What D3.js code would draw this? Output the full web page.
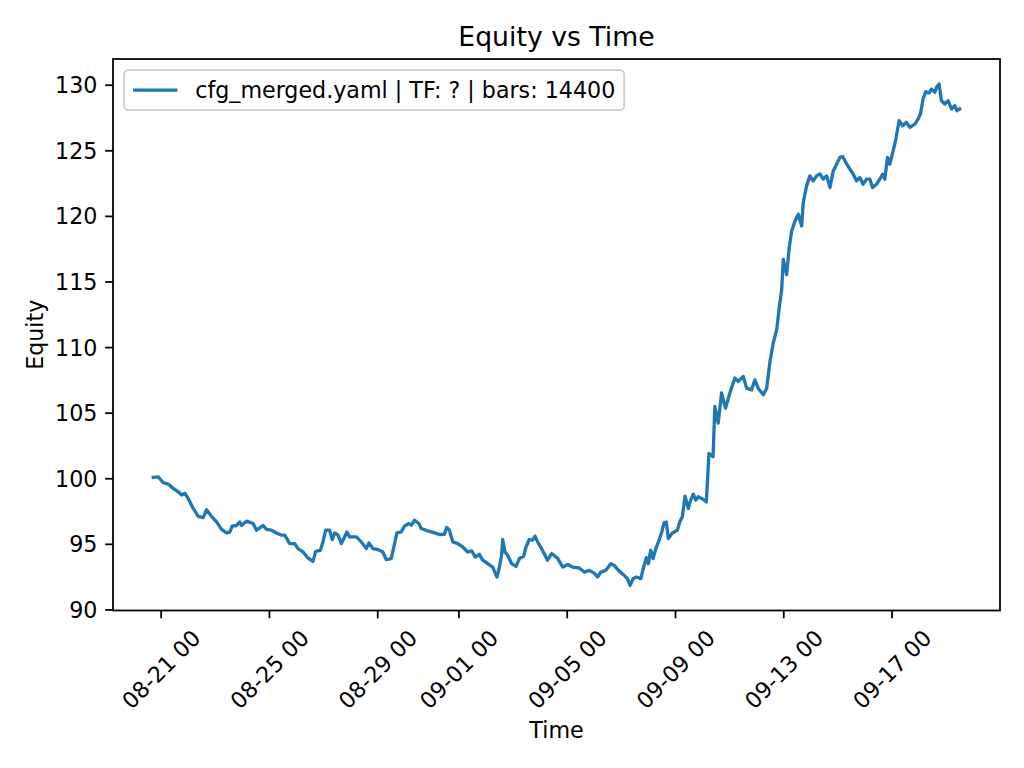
<!DOCTYPE html>
<html>
<head>
<meta charset="utf-8">
<script src="https://cdn.jsdelivr.net/npm/d3@7"></script>
<style>
  html, body { margin: 0; padding: 0; background: #ffffff; }
  svg { display: block; font-family: "DejaVu Sans", sans-serif; }
</style>
</head>
<body>
<svg id="chart" width="1024" height="768"></svg>
<script>
// ---------------- data ----------------
const startDate = "2025-08-21T00:00:00";   // hours below are counted from this moment
const hoursFromStart = [
  -6.5,-2.1,2.3,6.7,11.2,15.6,18.6,21.5,24.4,28.9,33.3,37.7,40.7,45.1,49.6,54.0,58.4,61.3,63.4,67.3,
  70.2,71.7,76.1,82.0,85.0,90.8,93.8,98.2,102.7,107.1,
  110.0,114.4,118.9,121.8,126.2,130.6,135.1,137.4,141.6,143.9,146.3,149.8,152.2,154.3,157.2,160.2,163.1,165.1,167.5,173.5,
  177.9,182.3,184.6,188.2,192.6,197.0,200.0,204.4,207.4,209.4,213.3,216.2,220.0,222.1,225.1,228.9,
  231.0,236.8,242.8,247.2,251.6,253.6,256.0,259.0,263.4,267.8,272.2,275.8,278.8,282.6,285.5,289.9,294.4,298.2,300.3,302.3,
  303.2,305.3,307.6,311.2,315.1,318.0,321.8,323.9,326.8,329.8,331.9,334.2,338.6,343.0,346.6,
  352.1,356.5,360.9,365.2,371.1,375.6,380.0,384.4,387.3,390.3,394.7,399.1,402.1,406.5,410.9,413.8,416.2,418.9,421.8,425.7,
  428.6,430.6,432.4,434.5,436.6,439.0,441.9,444.3,446.3,448.3,450.1,453.6,458.1,460.2,462.5,464.9,467.8,469.9,472.2,474.4,
  476.7,480.8,483.8,486.1,
  489.8,491.3,494.3,497.3,500.8,505.5,509.1,512.0,516.5,519.5,523.9,526.8,529.8,534.3,537.3,540.2,543.1,546.2,548.2,550.6,
  552.0,555.0,557.1,559.4,562.4,565.3,568.3,569.7,572.7,575.6,578.5,581.6,584.5,587.4,590.4,593.4,596.3,599.3,602.2,604.6,
  607.5,611.1,614.0,617.0,619.9,622.8,625.8,628.8,631.1,634.7,637.6,640.0,642.0,644.4,646.4,649.4,651.8,654.7,657.7,661.2,
  664.2,668.6,671.5,673.6,675.9,678.3,681.2,683.4,686.3,687.8,690.1,692.2,695.2,698.1,701.1,704.0,706.0,708.4
];
const equity = [
  100.07,100.1,99.66,99.56,99.23,98.97,98.72,98.85,98.46,97.7,97.1,97.0,97.6,97.1,96.67,96.1,95.83,95.9,96.35,96.4,
  96.67,96.4,96.73,96.55,96.04,96.4,96.1,96.04,95.83,95.66,
  95.66,95.02,95.02,94.64,94.38,93.92,93.67,94.43,94.51,95.15,96.04,96.04,95.33,95.83,95.66,95.02,95.53,95.91,95.53,95.53,
  95.15,94.64,95.07,94.64,94.56,94.38,93.8,93.88,95.02,95.83,95.91,96.35,96.55,96.42,96.8,96.55,
  96.17,95.99,95.83,95.71,95.73,96.25,96.04,95.15,95.02,94.76,94.38,94.46,94.0,94.2,93.75,93.49,93.23,92.47,93.23,94.13,
  95.33,94.38,94.13,93.49,93.28,93.88,94.05,94.76,95.33,95.28,95.58,95.15,94.5,93.75,94.26,
  93.88,93.23,93.42,93.23,93.16,92.85,92.98,92.77,92.47,92.85,92.98,93.49,93.36,92.92,92.6,92.35,91.83,92.35,92.47,92.35,
  93.36,93.95,93.49,94.51,93.88,94.64,95.28,95.91,96.6,96.67,95.4,95.83,96.04,96.67,97.06,98.64,97.7,98.33,98.79,98.33,
  98.59,98.4,98.2,101.9,
  101.64,105.47,104.2,106.5,105.35,106.74,107.64,107.38,107.76,106.87,106.74,107.5,106.87,106.36,106.87,108.9,110.31,111.33,112.86,114.39,
  116.68,115.53,117.45,118.85,119.61,120.12,119.23,121.02,122.29,123.05,122.67,123.05,123.2,122.8,123.05,122.16,123.43,123.94,124.46,124.53,
  124.07,123.56,123.18,122.67,122.93,122.42,122.8,122.8,122.16,122.42,122.8,123.18,122.8,124.46,123.94,124.96,125.86,127.26,126.87,127.13,
  126.75,127.0,127.38,127.77,128.91,129.47,129.37,129.67,129.42,129.8,130.05,128.78,128.53,128.78,128.15,128.4,128.02,128.15
];
const xTickDates = ["2025-08-21","2025-08-25","2025-08-29","2025-09-01","2025-09-05","2025-09-09","2025-09-13","2025-09-17"];
const yTickValues = [90, 95, 100, 105, 110, 115, 120, 125, 130];
const titleText = "Equity vs Time";
const xLabelText = "Time";
const yLabelText = "Equity";
const seriesLabel = "cfg_merged.yaml | TF: ? | bars: 14400";

// ---------------- layout ----------------
const W = 1024, H = 768;
const plot = { left: 113, right: 1000, top: 59, bottom: 610.5 };
const lineColor = "#1f77b4";
const lineW = 3.33;
const fs = 22.2, titleFs = 26.7;
const tickLen = 7.8, tickPad = 7.8, spineW = 1.78;

const t0 = new Date(startDate).getTime();
const data = hoursFromStart.map((h, i) => ({ t: new Date(t0 + h * 3600000), v: equity[i] }));

// matplotlib-style 5% margins
const tExt = d3.extent(data, d => d.t.getTime());
const tPad = (tExt[1] - tExt[0]) * 0.05;
const vExt = d3.extent(data, d => d.v);
const vPad = (vExt[1] - vExt[0]) * 0.05;

const x = d3.scaleTime()
  .domain([new Date(tExt[0] - tPad), new Date(tExt[1] + tPad)])
  .range([plot.left, plot.right]);
const y = d3.scaleLinear()
  .domain([vExt[0] - vPad, vExt[1] + vPad])
  .range([plot.bottom, plot.top]);

const svg = d3.select("#chart");
svg.append("rect").attr("width", W).attr("height", H).attr("fill", "#ffffff");

// line
const clipId = "plotclip";
svg.append("clipPath").attr("id", clipId).append("rect")
  .attr("x", plot.left).attr("y", plot.top)
  .attr("width", plot.right - plot.left).attr("height", plot.bottom - plot.top);

svg.append("path")
  .datum(data)
  .attr("clip-path", `url(#${clipId})`)
  .attr("fill", "none")
  .attr("stroke", lineColor)
  .attr("stroke-width", lineW)
  .attr("stroke-linejoin", "round")
  .attr("stroke-linecap", "square")
  .attr("d", d3.line().x(d => x(d.t)).y(d => y(d.v)));

// axes
const fmt = d3.timeFormat("%m-%d %H");
const xTicks = xTickDates.map(s => new Date(s + "T00:00:00"));

const xAxis = svg.append("g")
  .attr("transform", `translate(0,${plot.bottom})`)
  .call(d3.axisBottom(x).tickValues(xTicks).tickFormat(fmt).tickSize(tickLen).tickPadding(tickPad));
xAxis.select(".domain").remove();
xAxis.selectAll(".tick line").attr("stroke", "#000").attr("stroke-width", spineW);
xAxis.selectAll(".tick text")
  .attr("fill", "#000")
  .style("font-size", fs + "px")
  .style("font-family", "DejaVu Sans")
  .attr("text-anchor", "middle")
  .attr("dominant-baseline", "central")
  .attr("dy", null)
  .attr("y", null)
  .each(function () {
    const el = d3.select(this);
    const w = this.getComputedTextLength();
    const hgt = fs * 1.0;
    const bb = (w + hgt) * Math.SQRT1_2;
    const cy = tickLen + tickPad + bb / 2;
    el.attr("transform", `translate(0,${cy}) rotate(-45)`);
  });

const yAxis = svg.append("g")
  .attr("transform", `translate(${plot.left},0)`)
  .call(d3.axisLeft(y).tickValues(yTickValues).tickFormat(d3.format("d")).tickSize(tickLen).tickPadding(tickPad));
yAxis.select(".domain").remove();
yAxis.selectAll(".tick line").attr("stroke", "#000").attr("stroke-width", spineW);
yAxis.selectAll(".tick text")
  .attr("fill", "#000")
  .style("font-size", fs + "px")
  .style("font-family", "DejaVu Sans")
  .attr("dy", null)
  .attr("dominant-baseline", "central");

// spines
svg.append("rect")
  .attr("x", plot.left).attr("y", plot.top)
  .attr("width", plot.right - plot.left).attr("height", plot.bottom - plot.top)
  .attr("fill", "none").attr("stroke", "#000").attr("stroke-width", spineW);

// title and labels
svg.append("text")
  .attr("x", (plot.left + plot.right) / 2).attr("y", plot.top - 13.3)
  .attr("text-anchor", "middle")
  .style("font-size", titleFs + "px").attr("fill", "#000")
  .text(titleText);

svg.append("text")
  .attr("x", (plot.left + plot.right) / 2).attr("y", 738)
  .attr("text-anchor", "middle")
  .style("font-size", fs + "px").attr("fill", "#000")
  .text(xLabelText);

svg.append("text")
  .attr("transform", `translate(43,${(plot.top + plot.bottom) / 2}) rotate(-90)`)
  .attr("text-anchor", "middle")
  .style("font-size", fs + "px").attr("fill", "#000")
  .text(yLabelText);

// legend
const lg = svg.append("g");
const lx = plot.left + 11.1, ly = plot.top + 11.1;
const pad = 8.9, handleLen = 44.4, handleGap = 17.8;
const lgText = lg.append("text")
  .attr("x", lx + pad + handleLen + handleGap)
  .attr("y", ly + 20)
  .attr("dominant-baseline", "central")
  .style("font-size", fs + "px").attr("fill", "#000")
  .text(seriesLabel);
const tw = lgText.node().getComputedTextLength();
lg.insert("rect", "text")
  .attr("x", lx).attr("y", ly)
  .attr("width", pad + handleLen + handleGap + tw + pad)
  .attr("height", 40)
  .attr("rx", 4.4).attr("ry", 4.4)
  .attr("fill", "#ffffff").attr("fill-opacity", 0.8)
  .attr("stroke", "#cccccc").attr("stroke-width", 1.78);
lg.append("line")
  .attr("x1", lx + pad).attr("x2", lx + pad + handleLen)
  .attr("y1", ly + 20).attr("y2", ly + 20)
  .attr("stroke", lineColor).attr("stroke-width", lineW);
</script>
</body>
</html>
